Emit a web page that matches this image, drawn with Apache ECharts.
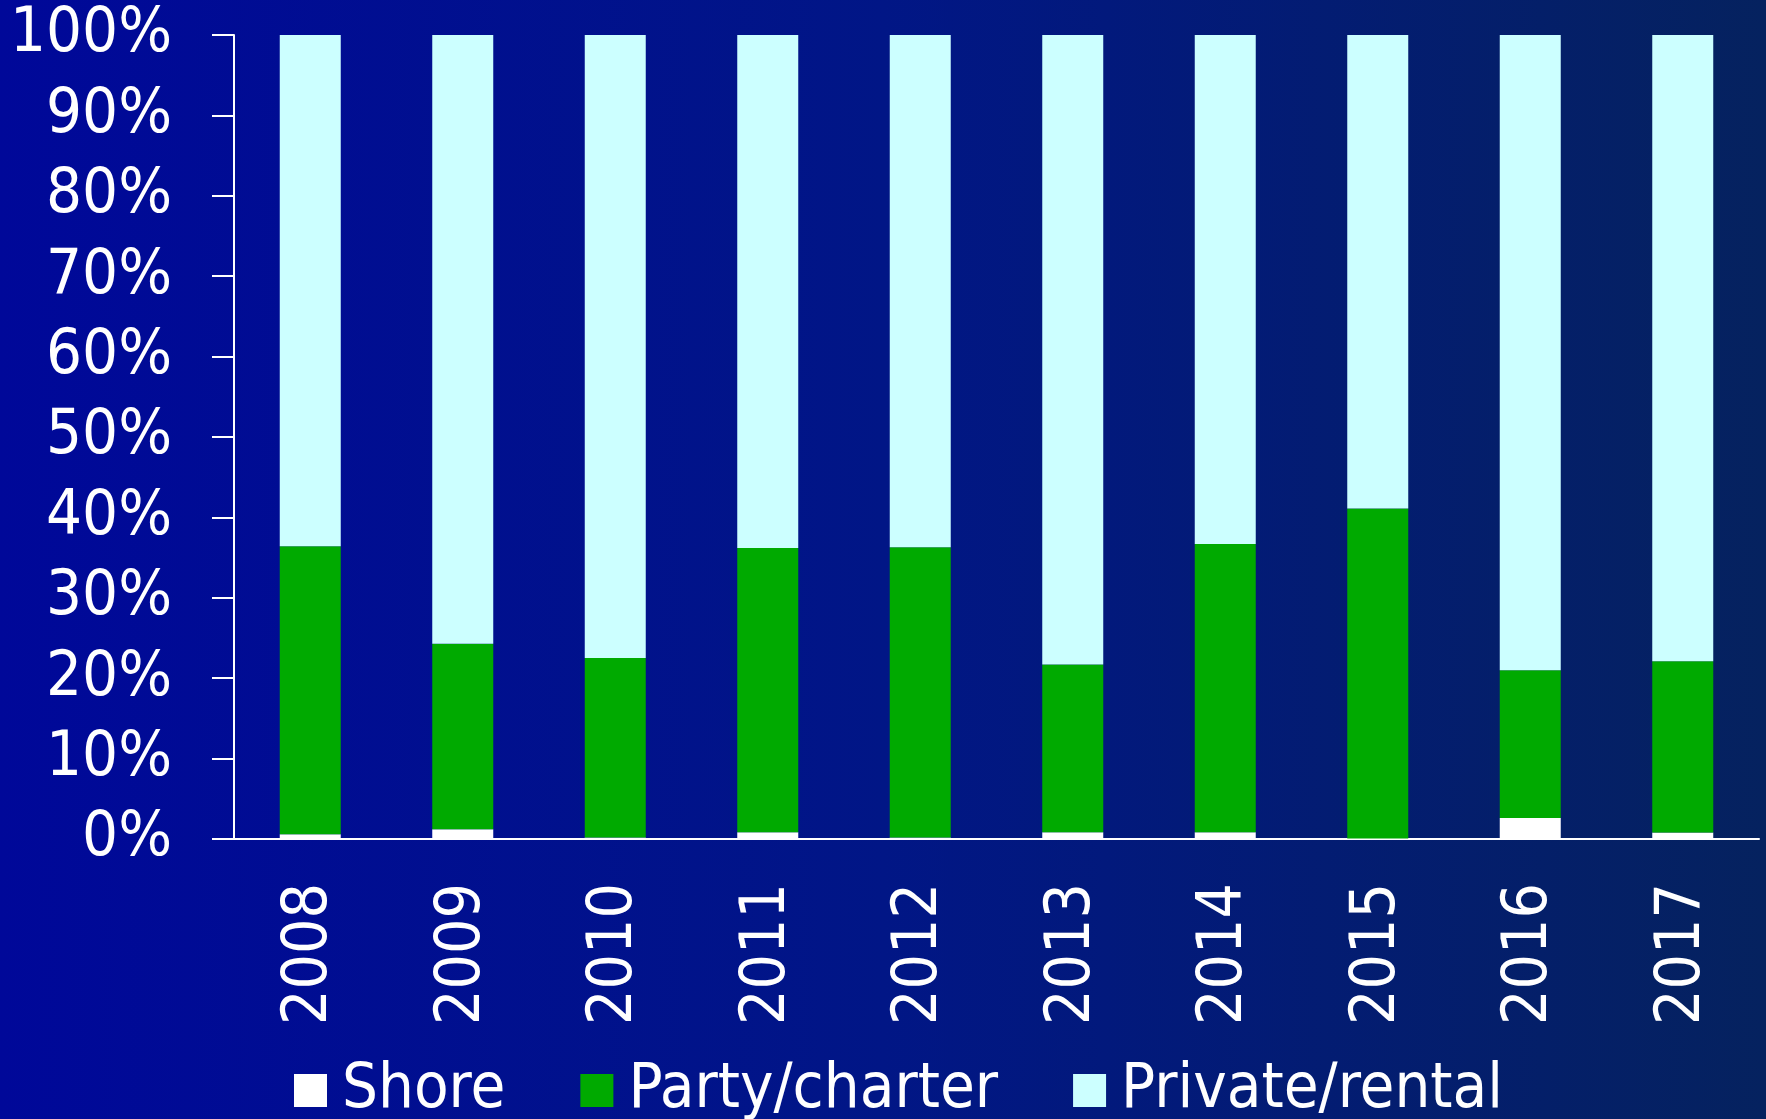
<!DOCTYPE html>
<html>
<head>
<meta charset="utf-8">
<script src="https://cdn.jsdelivr.net/npm/echarts@6/dist/echarts.min.js"></script>
<style>
  html, body { margin: 0; padding: 0; }
  #chart { width: 1766px; height: 1119px; }
</style>
</head>
<body>
<div id="chart"></div>
<script>
// years on the x axis
const years = ['2008', '2009', '2010', '2011', '2012', '2013', '2014', '2015', '2016', '2017'];

// share of trips by mode, in percent
const shore = [0.6, 1.2, 0.2, 0.85, 0.2, 0.85, 0.85, 0.05, 2.6, 0.8];
const partyCharter = [35.8, 23.1, 22.3, 35.35, 36.1, 20.85, 35.85, 41.05, 18.4, 21.3];
const privateRental = [63.6, 75.7, 77.5, 63.8, 63.7, 78.3, 63.3, 58.9, 79.0, 77.9];

const FONT = '"DejaVu Sans Condensed", "DejaVu Sans", sans-serif';

const chart = echarts.init(document.getElementById('chart'));

chart.setOption({
  backgroundColor: {
    type: 'linear', x: 0, y: 0, x2: 1, y2: 0,
    colorStops: [
      { offset: 0, color: '#000899' },
      { offset: 0.5, color: '#011686' },
      { offset: 1, color: '#05225F' }
    ]
  },
  animation: false,
  textStyle: { fontFamily: FONT },
  grid: { left: 234, right: 7, top: 35, bottom: 280 },
  legend: {
    left: 289,
    top: 1054,
    itemWidth: 33,
    itemHeight: 33,
    itemGap: 75,
    icon: 'rect',
    textStyle: { color: '#fff', fontSize: 63, fontFamily: FONT, padding: [0, 0, 0, 10] },
    data: ['Shore', 'Party/charter', 'Private/rental']
  },
  xAxis: {
    type: 'category',
    data: years,
    axisLine: { lineStyle: { color: '#fff', width: 2 } },
    axisTick: { length: 22, lineStyle: { color: '#fff', width: 2 } },
    axisLabel: { rotate: 90, color: '#fff', fontSize: 62, margin: 44, fontFamily: FONT }
  },
  yAxis: {
    type: 'value',
    min: 0,
    max: 100,
    interval: 10,
    axisLine: { show: true, lineStyle: { color: '#fff', width: 2 } },
    axisTick: { show: true, length: 22, lineStyle: { color: '#fff', width: 2 } },
    splitLine: { show: false },
    axisLabel: { color: '#fff', fontSize: 63, margin: 62, formatter: '{value}%', fontFamily: FONT }
  },
  series: [
    { name: 'Shore', type: 'bar', stack: 'all', barWidth: '40%', data: shore,
      itemStyle: { color: '#FFFFFF' } },
    { name: 'Party/charter', type: 'bar', stack: 'all', data: partyCharter,
      itemStyle: { color: '#00AA00' } },
    { name: 'Private/rental', type: 'bar', stack: 'all', data: privateRental,
      itemStyle: { color: '#CCFFFF' } }
  ]
});
</script>
</body>
</html>
